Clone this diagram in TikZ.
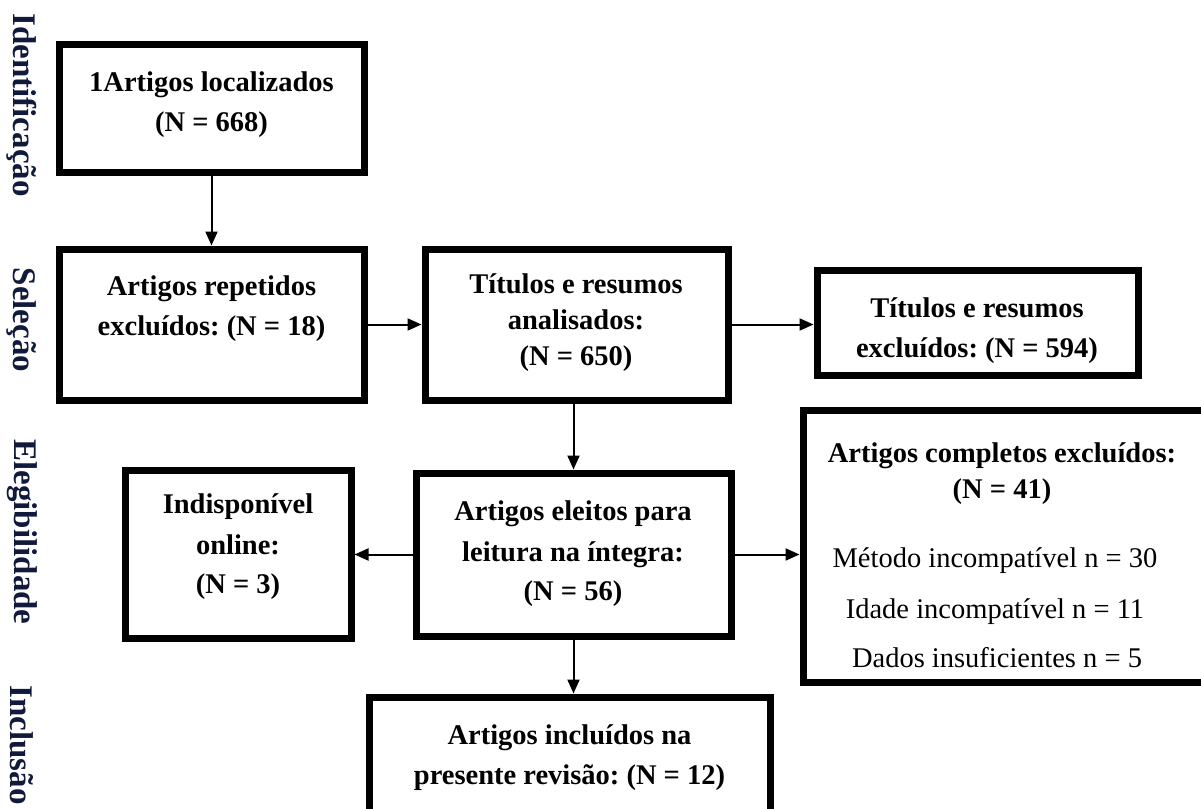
\documentclass[tikz,border=0pt]{standalone}
\usepackage{fontspec}
\setmainfont{Liberation Serif}
\usetikzlibrary{arrows.meta}
\frenchspacing
\definecolor{lblcol}{RGB}{18,26,60}
\tikzset{
  box/.style={draw=black, line width=7pt, rectangle, inner sep=0pt, fill=none},
  txt/.style={anchor=base, inner sep=0pt, font=\fontsize{28.5}{40}\selectfont\bfseries},
  txtr/.style={anchor=base, inner sep=0pt, font=\fontsize{28.5}{40}\selectfont},
  phase/.style={rotate=-90, inner sep=0pt, text=lblcol, font=\fontsize{33}{40}\selectfont\bfseries},
  arr/.style={line width=2pt, -{Triangle[length=14pt,width=12pt]}}
}
\begin{document}
\begin{tikzpicture}[x=1pt,y=-1pt]
\useasboundingbox (0,0) rectangle (1201,808);
\clip (0,0) rectangle (1201,808);
\fill[white] (0,0) rectangle (1201,808);

% phase labels
\node[phase] (p1) at (22,105) {Identificação};
\node[phase] (p2) at (22,320) {Seleção};
\node[phase] (p3) at (22,532) {Elegibilidade};
\node[phase] (p4) at (22,745) {Inclusão};

% boxes (centre-line geometry)
\node[box, minimum width=305pt, minimum height=127pt] (b1) at (211.5,108.5) {};
\node[box, minimum width=305pt, minimum height=151pt] (b2) at (211.5,324.5) {};
\node[box, minimum width=303pt, minimum height=151pt] (b3) at (576.5,324.5) {};
\node[box, minimum width=321pt, minimum height=105pt] (b4) at (977.5,322.5) {};
\node[box, minimum width=315pt, minimum height=163pt] (b5) at (573.5,554.5) {};
\node[box, minimum width=226pt, minimum height=168pt] (b6) at (238,554) {};
\node[box, minimum width=405pt, minimum height=272pt] (b7) at (1005.5,546) {};
\node[box, minimum width=401pt, minimum height=120pt] (b8) at (569.5,757) {};

% texts
\node[txt] (t1a) at (211.5,92) {1Artigos localizados};
\node[txt] (t1b) at (211.5,131) {(N = 668)};
\node[txt] (t2a) at (211.5,295) {Artigos repetidos};
\node[txt] (t2b) at (211.5,335) {excluídos: (N = 18)};
\node[txt] (t3a) at (576,293) {Títulos e resumos};
\node[txt] (t3b) at (576,329) {analisados:};
\node[txt] (t3c) at (576,365) {(N = 650)};
\node[txt] (t4a) at (977,317) {Títulos e resumos};
\node[txt] (t4b) at (977,357) {excluídos: (N = 594)};
\node[txt] (t5a) at (573,520) {Artigos eleitos para};
\node[txt] (t5b) at (573,561) {leitura na íntegra:};
\node[txt] (t5c) at (573,600) {(N = 56)};
\node[txt] (t6a) at (238,513) {Indisponível};
\node[txt] (t6b) at (238,554) {online:};
\node[txt] (t6c) at (238,593) {(N = 3)};
\node[txt] (t7a) at (1002,462) {Artigos completos excluídos:};
\node[txt] (t7b) at (1002,498) {(N = 41)};
\node[txtr] (t7c) at (995,567) {Método incompatível n = 30};
\node[txtr] (t7d) at (995,618) {Idade incompatível n = 11};
\node[txtr] (t7e) at (997,667) {Dados insuficientes n = 5};
\node[txt] (t8a) at (569.5,744) {Artigos incluídos na};
\node[txt] (t8b) at (569.5,784) {presente revisão: (N = 12)};

% connectors
\draw[arr] (b1.south) -- (b2.north);
\draw[arr] (b2.east) -- (b3.west);
\draw[arr] (b3.east) -- (b4.west |- b3.east);
\draw[arr] (b5.north |- b3.south) -- (b5.north);
\draw[arr] (b5.west) -- (b6.east |- b5.west);
\draw[arr] (b5.east) -- (b7.west |- b5.east);
\draw[arr] (b5.south) -- (b5.south |- b8.north);
\end{tikzpicture}
\end{document}
